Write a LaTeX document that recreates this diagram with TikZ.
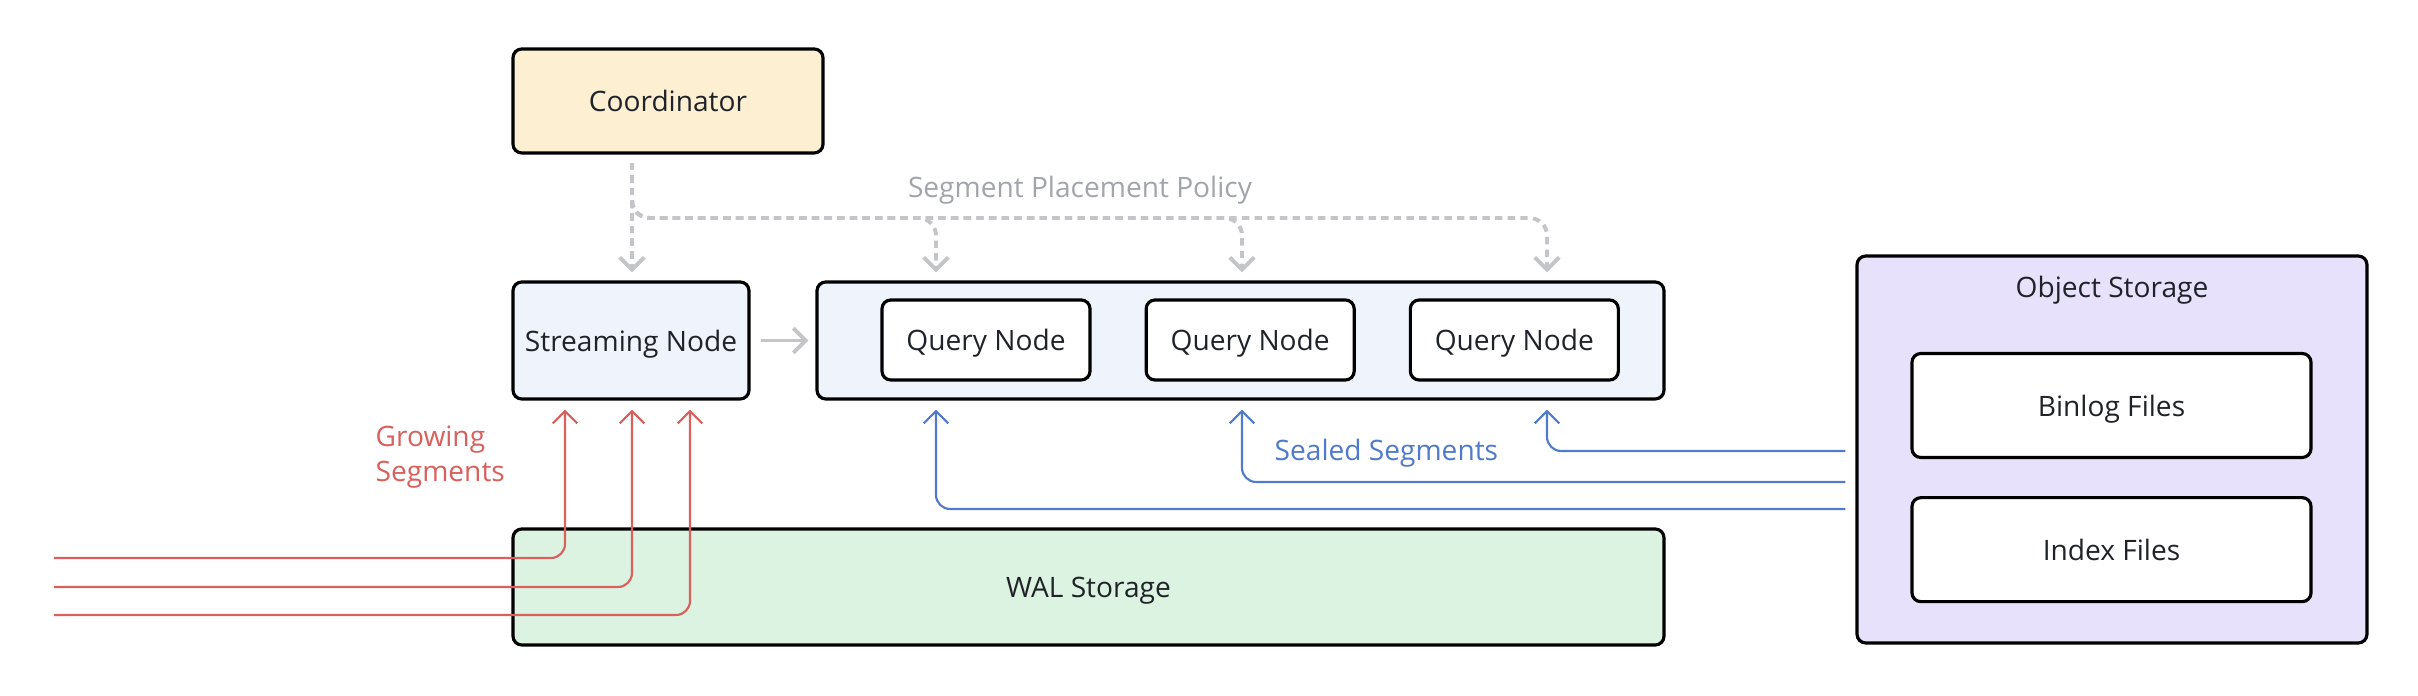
\documentclass[tikz,border=0pt]{standalone}
\usepackage{fontspec}
\setmainfont{Open Sans}
\usepackage{xcolor}
\usepackage{tikz}
\usetikzlibrary{arrows.meta}
\usetikzlibrary{positioning}

\definecolor{ink}{HTML}{1F2329}
\definecolor{coordfill}{HTML}{FDF0D2}
\definecolor{nodefill}{HTML}{EEF3FC}
\definecolor{walfill}{HTML}{DDF3E2}
\definecolor{objfill}{HTML}{E8E1FB}
\definecolor{policygray}{HTML}{C3C5C9}
\definecolor{labelgray}{HTML}{A2A6AC}
\definecolor{growred}{HTML}{D9605C}
\definecolor{sealblue}{HTML}{507ACB}

\begin{document}
\begin{tikzpicture}[>={Straight Barb[length=3.5pt,width=7pt]}, node distance=0.53cm, font=\fontsize{8}{10}\selectfont]
 	\tikzstyle{box}=[draw, rounded corners=2.5pt, line width=0.9pt, text=ink, align=center, inner sep=0pt, text depth=0pt]
 	\tikzstyle{qnode}=[box, fill=white, minimum width=2.08cm, minimum height=0.8cm]
 	\tikzstyle{filebox}=[box, fill=white, minimum width=3.99cm, minimum height=1.04cm]
 	\tikzstyle{policyline}=[->, policygray, line width=1.1pt, dash pattern=on 2.1pt off 1.5pt, shorten >=0.08cm]
 	\tikzstyle{growline}=[->, growred, line width=0.6pt, rounded corners=4pt, shorten >=0.09cm]
 	\tikzstyle{sealline}=[->, sealblue, line width=0.6pt, rounded corners=4pt, shorten >=0.09cm, shorten <=0.1cm]

 	\fill[white] (0,0) rectangle (24.18,6.96);
 	\useasboundingbox (0,0) rectangle (24.18,6.96);

 	\node[box, fill=coordfill, minimum width=3.10cm, minimum height=1.04cm] (coord) at (6.68,5.95) {Coordinator};
 	\node[box, fill=nodefill, minimum width=2.36cm, minimum height=1.17cm] (stream) at (6.31,3.555) {Streaming Node};
 	\node[box, fill=nodefill, minimum width=8.47cm, minimum height=1.17cm] (qgroup) at (12.405,3.555) {};
 	\node[qnode] (q1) at (9.86,3.56) {Query Node};
 	\node[qnode] (q2) [right=of q1] {Query Node};
 	\node[qnode] (q3) [right=of q2] {Query Node};
 	\node[box, fill=walfill, minimum width=11.51cm, minimum height=1.16cm] (wal) at (10.885,1.09) {WAL Storage};
 	\node[box, fill=objfill, minimum width=5.10cm, minimum height=3.87cm] (obj) at (21.12,2.465) {};
 	\node[text=ink] (objlabel) at (21.12,4.06) {Object Storage};
 	\node[filebox] (binlog) at (21.115,2.905) {Binlog Files};
 	\node[filebox] (index) [below=0.37cm of binlog] {Index Files};

 	\node[text=labelgray] (policylabel) at (10.80,5.06) {Segment Placement Policy};
 	\node[text=growred, anchor=west, align=left, inner sep=0pt] (growlabel) at (3.75,2.39) {Growing\\Segments};
 	\node[text=sealblue, anchor=west, inner sep=0pt] (seallabel) at (12.74,2.43) {Sealed Segments};

 	\coordinate (pol) at (6.32,4.78);
 	\coordinate (a1) at ([xshift=-3.045cm]qgroup.north);
 	\coordinate (a2) at ([xshift=0.015cm]qgroup.north);
 	\coordinate (a3) at ([xshift=3.065cm]qgroup.north);
 	\coordinate (in1) at (0.54,1.38);
 	\coordinate (in2) at (0.54,1.09);
 	\coordinate (in3) at (0.54,0.81);

 	\draw[policyline, shorten <=0.08cm] (coord.south -| pol) -- (stream.north -| pol);
 	\foreach \t in {a1,a2,a3}
 		\draw[policyline, rounded corners=5pt] ([yshift=5pt]pol) -- (pol) -| (\t);

 	\draw[->, policygray, line width=1.1pt, shorten <=0.1cm, shorten >=0.07cm] (stream) -- (qgroup);

 	\draw[growline] (in1) -| ([xshift=-0.66cm]stream.south);
 	\draw[growline] (in2) -| ([xshift=0.01cm]stream.south);
 	\draw[growline] (in3) -| ([xshift=0.59cm]stream.south);

 	\draw[sealline] (obj.west |- 0,2.45) -| (qgroup.south -| a3);
 	\draw[sealline] (obj.west |- 0,2.14) -| (qgroup.south -| a2);
 	\draw[sealline] (obj.west |- 0,1.87) -| (qgroup.south -| a1);
\end{tikzpicture}
\end{document}
